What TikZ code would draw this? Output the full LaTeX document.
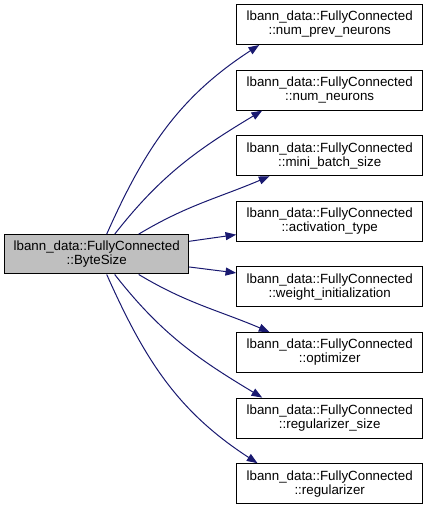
\documentclass[tikz,border=0pt]{standalone}
\usepackage{fontspec}
\setmainfont{Liberation Sans}
\usetikzlibrary{arrows.meta}
\definecolor{edgeblue}{HTML}{191970}

\begin{document}
\begin{tikzpicture}[x=0.75pt,y=-0.75pt,
    member/.style={draw=black,line width=0.75pt,fill=white,minimum width=139.5pt,minimum height=30pt,inner sep=0pt,align=center,font=\fontsize{10}{10.5}\selectfont},
    caller/.style={member,fill=black!25,minimum width=138pt,minimum height=29.5pt},
    edge/.style={draw=edgeblue,line width=0.75pt,-{Triangle[length=8pt,width=6pt]}}]
    \useasboundingbox (0,0) rectangle (427,508);
    \node[caller] (bytesize) at (96.7,254.3) {lbann\_data::FullyConnected\\::ByteSize};
    \node[member] (prev) at (329.7,24.5) {lbann\_data::FullyConnected\\::num\_prev\_neurons};
    \node[member] (neurons) at (329.7,90.1) {lbann\_data::FullyConnected\\::num\_neurons};
    \node[member] (batch) at (329.7,155.7) {lbann\_data::FullyConnected\\::mini\_batch\_size};
    \node[member] (act) at (329.7,221.3) {lbann\_data::FullyConnected\\::activation\_type};
    \node[member] (winit) at (329.7,286.9) {lbann\_data::FullyConnected\\::weight\_initialization};
    \node[member] (opt) at (329.7,352.5) {lbann\_data::FullyConnected\\::optimizer};
    \node[member] (regsize) at (329.7,418.1) {lbann\_data::FullyConnected\\::regularizer\_size};
    \node[member] (reg) at (329.7,483.7) {lbann\_data::FullyConnected\\::regularizer};
    % calls going up
    \draw[edge] ([xshift=7.5pt]bytesize.north) to[out=66,in=213] ([xshift=17.25pt]prev.south west);
    \draw[edge] ([xshift=13.5pt]bytesize.north) to[out=52,in=211] ([xshift=19.5pt]neurons.south west);
    \draw[edge] ([xshift=31.5pt]bytesize.north) to[out=31,in=203] ([xshift=25pt]batch.south west);
    \draw[edge] ([yshift=9.75pt]bytesize.east) -- ([yshift=-10pt]act.west);
    % calls going down
    \draw[edge] ([yshift=-9.5pt]bytesize.east) -- ([yshift=10.5pt]winit.west);
    \draw[edge] ([xshift=31.5pt]bytesize.south) to[out=-31,in=157] ([xshift=25pt]opt.north west);
    \draw[edge] ([xshift=13.5pt]bytesize.south) to[out=-52,in=149] ([xshift=19.5pt]regsize.north west);
    \draw[edge] ([xshift=7.5pt]bytesize.south) to[out=-66,in=147] ([xshift=16pt]reg.north west);
\end{tikzpicture}
\end{document}
